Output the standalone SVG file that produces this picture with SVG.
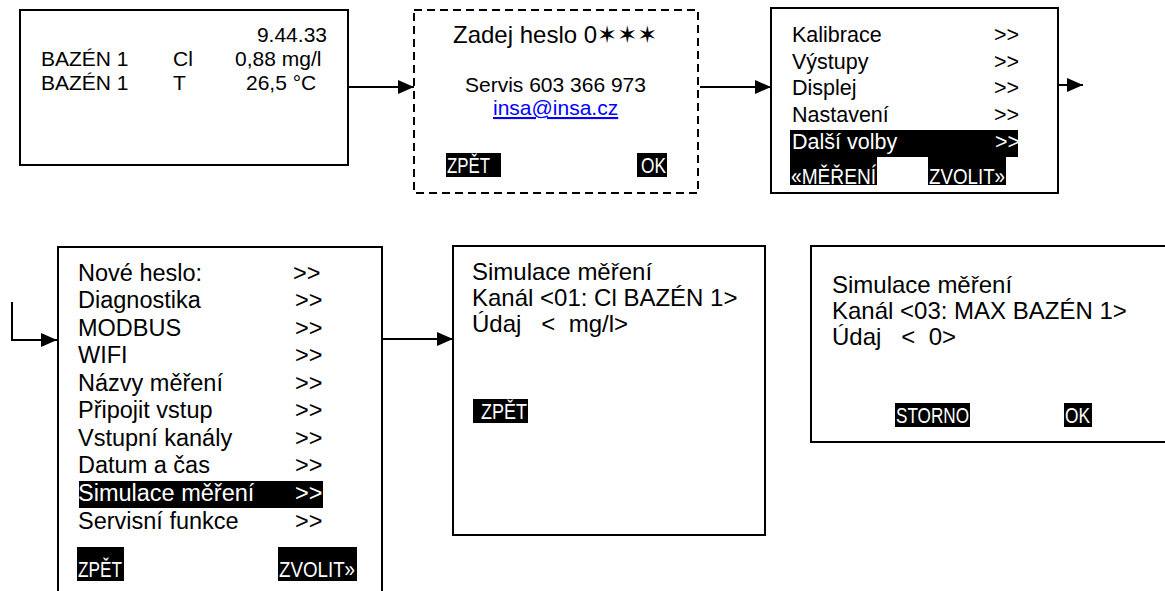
<svg xmlns="http://www.w3.org/2000/svg" width="1165" height="591" viewBox="0 0 1165 591">
<style>
.box{fill:#fff;stroke:#000;stroke-width:2}
.dash{fill:#fff;stroke:#000;stroke-width:2;stroke-dasharray:8 5}
.t{font-family:"Liberation Sans",Arial,"DejaVu Sans",sans-serif;fill:#000}
.n{font-family:"Liberation Sans Narrow","Arial Narrow","Liberation Sans",sans-serif;fill:#fff;font-size:22px}
.w{fill:#fff}
.bg{fill:#000}
.c{fill:none;stroke:#000;stroke-width:2}
</style>
<defs>
<marker id="ah" markerWidth="16" markerHeight="14" refX="16" refY="7" orient="auto" markerUnits="userSpaceOnUse"><path d="M0,0 L16,7 L0,14 z" fill="#000"/></marker>
</defs>

<g id="connectors">
<path class="c" d="M348,87 L414,87" marker-end="url(#ah)"/>
<path class="c" d="M700,87 L771,87" marker-end="url(#ah)"/>
<path class="c" d="M1055,85 L1083,85" marker-end="url(#ah)"/>
<path class="c" d="M12,302 L12,340 L57,340" marker-end="url(#ah)"/>
<path class="c" d="M383,339 L453,339" marker-end="url(#ah)"/>
</g>

<g id="node-measure">
<rect class="box" x="20" y="10" width="328" height="155"/>
<g class="t" font-size="21">
<text x="327" y="42" text-anchor="end">9.44.33</text>
<text x="41" y="66">BAZÉN 1</text>
<text x="173" y="66">Cl</text>
<text x="235" y="66">0,88 mg/l</text>
<text x="41" y="90">BAZÉN 1</text>
<text x="173" y="90">T</text>
<text x="246" y="90">26,5 °C</text>
</g>
</g>

<g id="node-password">
<rect class="dash" x="414" y="10" width="284" height="183"/>
<text class="t" x="453" y="43" font-size="24">Zadej heslo 0<tspan font-family="'DejaVu Sans',sans-serif" font-size="24">✶✶✶</tspan></text>
<text class="t" x="465" y="92" font-size="21">Servis 603 366 973</text>
<text class="t" x="493" y="115" font-size="21" fill="#0000ff" style="fill:#0000ff" text-decoration="underline">insa@insa.cz</text>
<rect class="bg" x="446" y="153" width="55" height="24"/>
<text class="n" x="447" y="173" textLength="43" lengthAdjust="spacingAndGlyphs">ZPĚT</text>
<rect class="bg" x="637" y="153" width="30" height="24"/>
<text class="n" x="641" y="173" textLength="25" lengthAdjust="spacingAndGlyphs">OK</text>
</g>

<g id="node-menu">
<rect class="box" x="771" y="8" width="287" height="185"/>
<rect class="bg" x="790" y="130" width="228" height="27"/>
<g class="t" font-size="21.5">
<text x="792" y="42">Kalibrace</text><text x="994" y="42">&gt;&gt;</text>
<text x="792" y="69">Výstupy</text><text x="994" y="69">&gt;&gt;</text>
<text x="792" y="95">Displej</text><text x="994" y="95">&gt;&gt;</text>
<text x="792" y="122">Nastavení</text><text x="994" y="122">&gt;&gt;</text>
<text x="792" y="149" class="w">Další volby</text><text x="995" y="149" class="w">&gt;&gt;</text>
</g>
<rect class="bg" x="790" y="157" width="87" height="28"/>
<text class="n" x="791" y="184" textLength="85" lengthAdjust="spacingAndGlyphs">«MĚŘENÍ</text>
<rect class="bg" x="928" y="157" width="78" height="28"/>
<text class="n" x="929" y="184" textLength="76" lengthAdjust="spacingAndGlyphs">ZVOLIT»</text>
</g>

<g id="node-more">
<rect class="box" x="58" y="247" width="324" height="400"/>
<rect class="bg" x="79" y="481" width="244" height="27"/>
<g class="t" font-size="23.5">
<text x="78" y="281">Nové heslo:</text><text x="293" y="281">&gt;&gt;</text>
<text x="78" y="308">Diagnostika</text><text x="295" y="308">&gt;&gt;</text>
<text x="78" y="336">MODBUS</text><text x="295" y="336">&gt;&gt;</text>
<text x="78" y="363">WIFI</text><text x="295" y="363">&gt;&gt;</text>
<text x="78" y="391">Názvy měření</text><text x="295" y="391">&gt;&gt;</text>
<text x="78" y="418">Připojit vstup</text><text x="295" y="418">&gt;&gt;</text>
<text x="78" y="446">Vstupní kanály</text><text x="295" y="446">&gt;&gt;</text>
<text x="78" y="473">Datum a čas</text><text x="295" y="473">&gt;&gt;</text>
<text x="78" y="501" class="w">Simulace měření</text><text x="295" y="501" class="w">&gt;&gt;</text>
<text x="78" y="529">Servisní funkce</text><text x="295" y="529">&gt;&gt;</text>
</g>
<rect class="bg" x="77" y="547" width="47" height="34"/>
<text class="n" x="78" y="577" textLength="44" lengthAdjust="spacingAndGlyphs">ZPĚT</text>
<rect class="bg" x="278" y="547" width="79" height="34"/>
<text class="n" x="279" y="577" textLength="76" lengthAdjust="spacingAndGlyphs">ZVOLIT»</text>
</g>

<g id="node-sim1">
<rect class="box" x="453" y="246" width="312" height="289"/>
<g class="t" font-size="24">
<text x="472" y="280">Simulace měření</text>
<text x="472" y="306">Kanál &lt;01: Cl BAZÉN 1&gt;</text>
<text x="472" y="332" xml:space="preserve">Údaj   &lt;  mg/l&gt;</text>
</g>
<rect class="bg" x="473" y="399" width="55" height="24"/>
<text class="n" x="481" y="419" textLength="46" lengthAdjust="spacingAndGlyphs">ZPĚT</text>
</g>

<g id="node-sim3">
<rect class="box" x="811" y="246" width="400" height="196"/>
<g class="t" font-size="24">
<text x="832" y="293">Simulace měření</text>
<text x="832" y="319">Kanál &lt;03: MAX BAZÉN 1&gt;</text>
<text x="832" y="345" xml:space="preserve">Údaj   &lt;  0&gt;</text>
</g>
<rect class="bg" x="895" y="403" width="75" height="24"/>
<text class="n" x="896" y="423" textLength="73" lengthAdjust="spacingAndGlyphs">STORNO</text>
<rect class="bg" x="1064" y="403" width="28" height="24"/>
<text class="n" x="1065" y="423" textLength="25" lengthAdjust="spacingAndGlyphs">OK</text>
</g>
</svg>
